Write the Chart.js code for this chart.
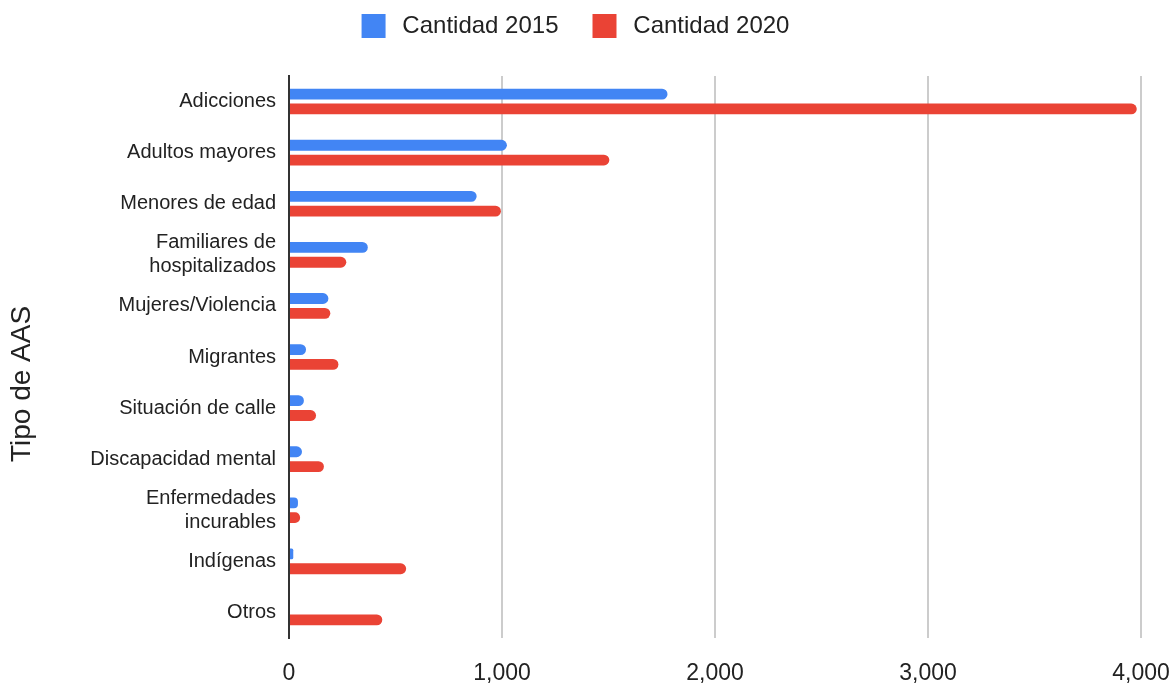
<!DOCTYPE html>
<html>
<head>
<meta charset="utf-8">
<script src="https://cdn.jsdelivr.net/npm/chart.js@4.4.1/dist/chart.umd.min.js"></script>
<style>
  html, body { margin: 0; padding: 0; background: #fff; }
  #wrap { width: 1173px; height: 688px; }
</style>
</head>
<body>
<div id="wrap"><canvas id="aasChart"></canvas></div>
<script>
// Tipos de AAS y cantidades por año
const categories = [
  'Adicciones',
  'Adultos mayores',
  'Menores de edad',
  ['Familiares de', 'hospitalizados'],
  'Mujeres/Violencia',
  'Migrantes',
  'Situación de calle',
  'Discapacidad mental',
  ['Enfermedades', 'incurables'],
  'Indígenas',
  'Otros'
];
const values2015 = [1777, 1023, 881, 370, 185, 80, 70, 61, 42, 20, 0];
const values2020 = [3980, 1504, 995, 269, 194, 232, 127, 164, 52, 550, 438];
const xTicks = [0, 1000, 2000, 3000, 4000];
const yTitle = 'Tipo de AAS';

const FONT = '"Liberation Sans", Arial, sans-serif';
Chart.defaults.font.family = FONT;
Chart.defaults.color = '#222';

// extra room under the legend
const legendGap = {
  id: 'legendGap',
  beforeInit(chart) {
    const fit = chart.legend.fit;
    chart.legend.fit = function () {
      fit.bind(chart.legend)();
      this.height += 28;
    };
  }
};

// y axis title, sitting a bit below the middle like the original
const sideTitle = {
  id: 'sideTitle',
  afterDraw(chart) {
    const ctx = chart.ctx;
    ctx.save();
    ctx.translate(22, 384);
    ctx.rotate(-Math.PI / 2);
    ctx.font = '28px ' + FONT;
    ctx.fillStyle = '#222';
    ctx.textAlign = 'center';
    ctx.textBaseline = 'middle';
    ctx.fillText(yTitle, 0, 0);
    ctx.restore();
  }
};

new Chart(document.getElementById('aasChart'), {
  type: 'bar',
  data: {
    labels: categories,
    datasets: [
      {
        label: 'Cantidad 2015',
        data: values2015,
        backgroundColor: '#4285F4',
        borderRadius: 6,
        borderSkipped: 'start'
      },
      {
        label: 'Cantidad 2020',
        data: values2020,
        backgroundColor: '#EA4335',
        borderRadius: 6,
        borderSkipped: 'start'
      }
    ]
  },
  options: {
    indexAxis: 'y',
    responsive: true,
    maintainAspectRatio: false,
    animation: false,
    datasets: { bar: { categoryPercentage: 0.58, barPercentage: 0.73 } },
    layout: { padding: { top: -20, right: 22, bottom: 0, left: 0 } },
    plugins: {
      legend: {
        position: 'top',
        labels: {
          boxWidth: 24,
          boxHeight: 24,
          padding: 34,
          font: { size: 24 },
          color: '#222',
          generateLabels: (chart) =>
            Chart.defaults.plugins.legend.labels.generateLabels(chart)
              .map(item => ({ ...item, text: '\u2009' + item.text }))
        }
      },
      tooltip: { enabled: false }
    },
    scales: {
      x: {
        min: 0,
        max: 4000,
        afterBuildTicks: (s) => { s.ticks = xTicks.map(v => ({ value: v })); },
        afterFit: (s) => { s.height = 50; s.paddingRight = 32; },
        border: { display: false },
        grid: {
          color: (ctx) => ctx.tick && ctx.tick.value === 0 ? 'rgba(0,0,0,0)' : '#ccc',
          lineWidth: 2,
          drawTicks: false
        },
        ticks: {
          padding: 22,
          font: { size: 23 },
          color: '#222',
          callback: (v) => Number(v).toLocaleString('en-US')
        }
      },
      y: {
        afterFit: (s) => { s.width = 289; },
        border: { display: true, color: '#333', width: 2 },
        grid: { display: false },
        ticks: {
          padding: 5,
          font: { size: 20 },
          color: '#222'
        }
      }
    }
  },
  plugins: [legendGap, sideTitle]
});
</script>
</body>
</html>
